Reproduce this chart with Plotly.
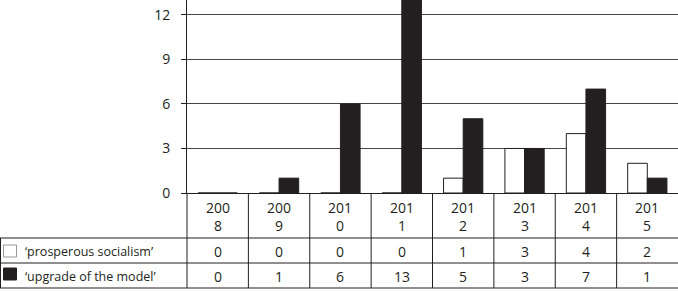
import plotly.graph_objects as go

years = ["2008", "2009", "2010", "2011", "2012", "2013", "2014", "2015"]
prosperous = [0, 0, 0, 0, 1, 3, 4, 2]
upgrade = [0, 1, 6, 13, 5, 3, 7, 1]
series_names = ["\u2018prosperous socialism\u2019", "\u2018upgrade of the model\u2019"]
y_ticks = [0, 3, 6, 9, 12]

W, H = 678, 291
L, T, B = 187, 0, 98
PW, PH = W - L, H - T - B
INK = "#231f20"
FONT = "Open Sans"
FS = 14


def px(x):
    return (x - L) / PW


def py(y):
    return (T + PH - y) / PH


xs = list(range(len(years)))
fig = go.Figure()
fig.add_trace(go.Bar(x=xs, y=prosperous, name=series_names[0],
                     marker=dict(color="white", line=dict(color=INK, width=1))))
fig.add_trace(go.Bar(x=xs, y=upgrade, name=series_names[1],
                     marker=dict(color=INK, line=dict(color=INK, width=1))))

shapes = []
line = dict(color=INK, width=1)
for yy in [238, 263, 288]:
    shapes.append(dict(type="line", xref="paper", yref="paper", x0=px(0), x1=px(W),
                       y0=py(yy), y1=py(yy), line=line))
shapes.append(dict(type="line", xref="paper", yref="paper", x0=px(0.5), x1=px(0.5),
                   y0=py(238), y1=py(288), line=line))
shapes.append(dict(type="line", xref="paper", yref="paper", x0=0, x1=0,
                   y0=py(193), y1=py(288), line=line))
for k in range(1, len(years)):
    shapes.append(dict(type="line", xref="x", yref="paper", x0=k - 0.5, x1=k - 0.5,
                       y0=py(193), y1=py(288), line=line))
shapes.append(dict(type="rect", xref="paper", yref="paper", x0=px(3.5), x1=px(16.5),
                   y0=py(257), y1=py(245), fillcolor="white", line=dict(color="#999", width=1)))
shapes.append(dict(type="rect", xref="paper", yref="paper", x0=px(3.5), x1=px(16.5),
                   y0=py(280), y1=py(268), fillcolor=INK, line=dict(color=INK, width=1)))

ann = []
tf = dict(family=FONT, size=FS, color=INK)
lf = dict(family=FONT, size=12.5, color=INK)
for k, yr in enumerate(years):
    ann.append(dict(x=k, y=py(216), xref="x", yref="paper", text=yr[:3] + "<br>" + yr[3:],
                    showarrow=False, font=tf, xanchor="center", yanchor="middle"))
    ann.append(dict(x=k, y=py(251), xref="x", yref="paper", text=str(prosperous[k]),
                    showarrow=False, font=tf, xanchor="center", yanchor="middle"))
    ann.append(dict(x=k, y=py(276), xref="x", yref="paper", text=str(upgrade[k]),
                    showarrow=False, font=tf, xanchor="center", yanchor="middle"))
ann.append(dict(x=px(23), y=py(251), xref="paper", yref="paper", text=series_names[0],
                showarrow=False, font=lf, xanchor="left", yanchor="middle"))
ann.append(dict(x=px(23), y=py(276), xref="paper", yref="paper", text=series_names[1],
                showarrow=False, font=lf, xanchor="left", yanchor="middle"))

fig.update_layout(
    width=W, height=H,
    margin=dict(l=L, r=0, t=T, b=B, pad=0),
    paper_bgcolor="white", plot_bgcolor="white",
    barmode="group", bargap=0.36, bargroupgap=0,
    showlegend=False,
    font=tf,
    shapes=shapes, annotations=ann,
    xaxis=dict(range=[-0.5, len(years) - 0.5], showticklabels=False, showgrid=False,
               zeroline=False, showline=True, linecolor=INK, linewidth=1, ticks=""),
    yaxis=dict(range=[0, 13], tickvals=y_ticks, showgrid=True, gridcolor="#444", gridwidth=1,
               zeroline=False, showline=True, linecolor=INK, linewidth=1,
               ticks="outside", ticklen=5, tickcolor=INK, ticklabelstandoff=8,
               tickfont=tf),
)

fig.write_html("out.html", config={"displayModeBar": False, "staticPlot": True},
               post_script="document.body.style.margin='0';document.body.style.padding='0';")
